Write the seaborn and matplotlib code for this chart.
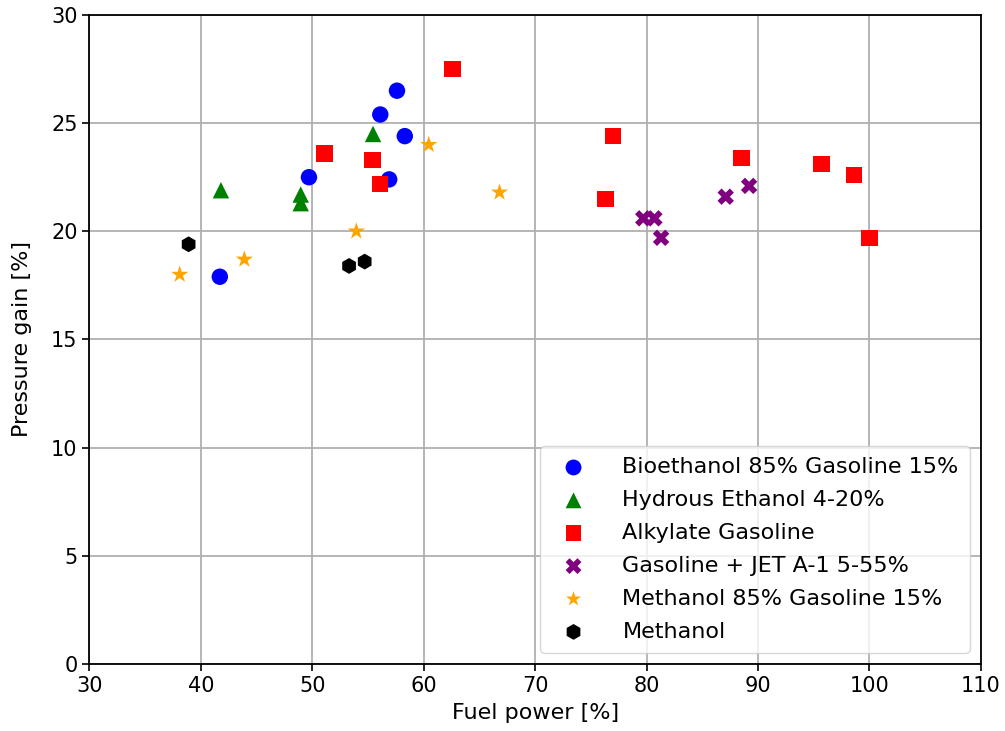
import matplotlib
matplotlib.use("Agg")
import matplotlib.pyplot as plt
import seaborn as sns
import pandas as pd

bio_x = [57.6, 56.1, 58.3, 49.7, 56.9, 41.7]
bio_y = [26.5, 25.4, 24.4, 22.5, 22.4, 17.9]

hyd_x = [55.45, 41.8, 48.96, 48.96]
hyd_y = [24.5, 21.9, 21.7, 21.3]

alk_x = [62.6, 51.1, 55.4, 56.1, 77.0, 76.3, 88.5, 95.7, 98.6, 100.0]
alk_y = [27.5, 23.6, 23.3, 22.2, 24.4, 21.5, 23.4, 23.1, 22.6, 19.7]

jet_x = [79.7, 80.7, 81.3, 87.1, 89.2]
jet_y = [20.6, 20.6, 19.7, 21.6, 22.1]

meth85_x = [60.45, 66.8, 53.95, 43.9, 38.1]
meth85_y = [24.0, 21.8, 20.0, 18.7, 18.0]

meth_x = [38.9, 53.3, 54.7]
meth_y = [19.4, 18.4, 18.6]

labels = ["Bioethanol 85% Gasoline 15%", "Hydrous Ethanol 4-20%", "Alkylate Gasoline",
          "Gasoline + JET A-1 5-55%", "Methanol 85% Gasoline 15%", "Methanol"]

series = [(bio_x, bio_y), (hyd_x, hyd_y), (alk_x, alk_y), (jet_x, jet_y),
          (meth85_x, meth85_y), (meth_x, meth_y)]
colors = ["blue", "green", "red", "purple", "orange", "black"]
markers = ["o", "^", "s", "X", "*", "h"]
sizes = [140, 140, 140, 140, 170, 130]

sns.set_style("ticks")
plt.rcParams['font.family'] = ['DejaVu Sans']
plt.rcParams['text.color'] = 'black'
plt.rcParams['axes.labelcolor'] = 'black'
plt.rcParams['xtick.color'] = 'black'
plt.rcParams['ytick.color'] = 'black'

fig = plt.figure(figsize=(10.05, 7.31), dpi=100)
ax = fig.add_axes([0.089, 0.0917, 0.887, 0.8878])

for (xs, ys), lab, c, m, s in zip(series, labels, colors, markers, sizes):
    df = pd.DataFrame({"x": xs, "y": ys})
    sns.scatterplot(data=df, x="x", y="y", ax=ax, color=c, marker=m, s=s,
                    edgecolor="none", label=lab, zorder=3)

ax.set_xlim(30, 110)
ax.set_ylim(0, 30)
ax.set_xticks(range(30, 111, 10))
ax.set_yticks(range(0, 31, 5))
ax.grid(True, color="#b0b0b0", linewidth=1.3)
ax.set_axisbelow(True)
for sp in ax.spines.values():
    sp.set_color("black")
    sp.set_linewidth(1.3)
ax.tick_params(labelsize=15, length=5, width=1.2, color="black", labelcolor="black")
ax.set_xlabel("Fuel power [%]", fontsize=16, color="black", labelpad=5)
ax.set_ylabel("Pressure gain [%]", fontsize=16, color="black", labelpad=14)

leg = ax.legend(loc="lower right", fontsize=16, frameon=True, borderpad=0.5,
                handletextpad=1.2, labelspacing=0.58)
for h in leg.legend_handles:
    h.set_sizes([130])
for t in leg.get_texts():
    t.set_color("black")

fig.savefig("out.png", dpi=100)
